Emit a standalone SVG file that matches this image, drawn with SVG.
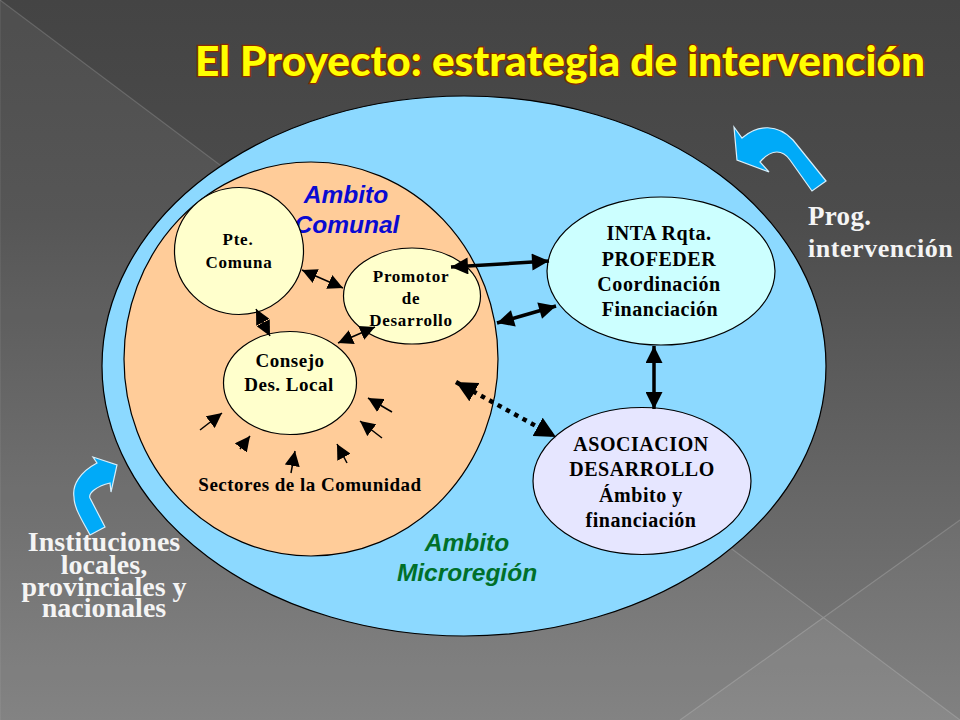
<svg xmlns="http://www.w3.org/2000/svg" width="960" height="720" viewBox="0 0 960 720">
<defs>
<linearGradient id="bg" gradientUnits="userSpaceOnUse" x1="0" y1="0" x2="0" y2="720"><stop offset="0" stop-color="#444444"/><stop offset="0.3" stop-color="#4c4c4c"/><stop offset="1" stop-color="#7c7c7c"/></linearGradient>
<marker id="big" viewBox="0 0 10 10" refX="10" refY="5" markerWidth="18" markerHeight="17" orient="auto-start-reverse" markerUnits="userSpaceOnUse"><path d="M0 0L10 5L0 10z" fill="#000"/></marker>
<marker id="dot" viewBox="0 0 10 10" refX="10" refY="5" markerWidth="21" markerHeight="21" orient="auto-start-reverse" markerUnits="userSpaceOnUse"><path d="M0 0L10 5L0 10z" fill="#000"/></marker>
<marker id="med" viewBox="0 0 10 10" refX="10" refY="5" markerWidth="15" markerHeight="15" orient="auto-start-reverse" markerUnits="userSpaceOnUse"><path d="M0 0L10 5L0 10z" fill="#000"/></marker>
</defs>
<style>
.ser{font-family:"Liberation Serif",serif;font-weight:bold;text-anchor:middle}
.sans{font-family:"Liberation Sans",sans-serif;font-weight:bold;font-style:italic;text-anchor:middle;font-size:24.500px}
.n{fill:#000;font-size:19px;letter-spacing:.5px}
.m{font-size:20px;letter-spacing:.55px}
.s{font-size:17px;letter-spacing:.75px}
.w{fill:#f4f4f4;font-size:28px}
.el{stroke:#000;stroke-width:1.2}
.c1{stroke:#000;stroke-width:1.5;fill:none}
.c2{stroke:#000;stroke-width:3.5;fill:none}
.arrow{fill:#00aaf8;stroke:#d8eefa;stroke-width:1.2}
</style>
<rect width="960" height="720" fill="url(#bg)"/>
<path d="M0 0L823 617L680 720L0 720z" fill="#fff" opacity=".06"/>
<path d="M823 617L960 720L680 720z" fill="#fff" opacity=".1"/>
<path d="M823 617L960 520L960 720z" fill="#fff" opacity=".04"/>
<path d="M0 0V720" stroke="#fff" stroke-opacity=".06" stroke-width="2" fill="none"/>
<path d="M0 0L960 720M960 520L680 720" stroke="#fff" stroke-opacity=".16" stroke-width="1.2" fill="none"/>
<text x="560" y="75.500" text-anchor="middle" font-family="Lato,sans-serif" font-weight="900" font-size="41" fill="#ffff00" stroke="#8a2a00" stroke-width="2.6" paint-order="stroke" textLength="730" lengthAdjust="spacingAndGlyphs">El Proyecto: estrategia de intervención</text>
<g id="microregion"><ellipse class="el" cx="464" cy="366" rx="362" ry="270" fill="#8cd9ff"/>
<text class="sans" x="467" y="551" fill="#00702a">Ambito</text><text class="sans" x="467" y="581" fill="#00702a" font-size="25">Microregión</text></g>
<g id="comunal"><ellipse class="el" cx="311" cy="359" rx="187" ry="197" fill="#ffcc99"/>
<text class="sans" x="346" y="203" fill="#0a0ad2">Ambito</text><text class="sans" x="347" y="233" fill="#0a0ad2">Comunal</text>
<text class="ser n" x="310" y="491">Sectores de la Comunidad</text></g>
<g id="pte"><ellipse class="el" cx="239" cy="251" rx="64.500" ry="63.500" fill="#ffffcc"/>
<text class="ser s" x="238" y="245">Pte.</text><text class="ser s" x="239" y="268">Comuna</text></g>
<g id="promotor"><ellipse class="el" cx="412" cy="296" rx="68.500" ry="48" fill="#ffffcc"/>
<text class="ser s" x="411" y="282">Promotor</text><text class="ser s" x="411" y="304">de</text><text class="ser s" x="411" y="326">Desarrollo</text></g>
<g id="consejo"><ellipse class="el" cx="290" cy="383" rx="66.500" ry="51.500" fill="#ffffcc"/>
<text class="ser n" x="290" y="367">Consejo</text><text class="ser n" x="289" y="391">Des. Local</text></g>
<g id="inta"><ellipse class="el" cx="661" cy="271" rx="114" ry="74" fill="#ccffff"/>
<text class="ser m" x="659" y="240">INTA Rqta.</text><text class="ser m" x="659" y="266">PROFEDER</text><text class="ser m" x="659" y="291">Coordinación</text><text class="ser m" x="660" y="316">Financiación</text></g>
<g id="asociacion"><ellipse class="el" cx="642" cy="481" rx="109" ry="73.500" fill="#e6e6ff"/>
<text class="ser m" x="641" y="451">ASOCIACION</text><text class="ser m" x="642" y="476">DESARROLLO</text><text class="ser m" x="641" y="502">Ámbito y</text><text class="ser m" x="641" y="527">financiación</text></g>
<g id="connectors">
<path class="c1" marker-start="url(#med)" marker-end="url(#med)" d="M302 270L343 288"/>
<path class="c1" marker-start="url(#med)" marker-end="url(#med)" d="M256 309L270 336"/>
<path class="c1" marker-start="url(#med)" marker-end="url(#med)" d="M338 343L375 327"/>
<path class="c1" marker-end="url(#med)" d="M200 430L222 413"/>
<path class="c1" marker-end="url(#med)" d="M240 449L250 436"/>
<path class="c1" marker-end="url(#med)" d="M291 473L295 451"/>
<path class="c1" marker-end="url(#med)" d="M347 463L337 444"/>
<path class="c1" marker-end="url(#med)" d="M382 438L360 421"/>
<path class="c1" marker-end="url(#med)" d="M392 412L368 398"/>
<path class="c2" marker-start="url(#big)" marker-end="url(#big)" d="M451 267L549 261"/>
<path class="c2" marker-start="url(#big)" marker-end="url(#big)" d="M497 323L556 306"/>
<path class="c2" marker-start="url(#big)" marker-end="url(#big)" d="M654 346L654 409"/>
<path class="c2" style="stroke-width:4.500;stroke-dasharray:4.500 5" marker-start="url(#dot)" marker-end="url(#dot)" d="M456 382L556 437"/>
</g>
<g id="arrow-prog"><path class="arrow" d="M826 181L812 191L790 160C783 150 772 148 760 162L769 172L737 160L734 127L742 138C758 124 778 124 793 140z"/></g>
<g id="arrow-inst"><path class="arrow" d="M90 535L105 527L90 498C88 493 97 486 110 483L111 492L117 465L93 457L97 463C80 472 72 485 74 497C74 508 82 520 90 535z"/></g>
<g id="label-prog"><text class="ser w" x="808" y="225" style="text-anchor:start;font-size:27px" letter-spacing=".3">Prog.</text><text class="ser w" x="808" y="257" style="text-anchor:start;font-size:26px" letter-spacing=".55">intervención</text></g>
<g id="label-inst"><text class="ser w" x="104" y="551">Instituciones</text><text class="ser w" x="104" y="574">locales,</text><text class="ser w" x="104" y="596">provinciales y</text><text class="ser w" x="104" y="617">nacionales</text></g>
</svg>
